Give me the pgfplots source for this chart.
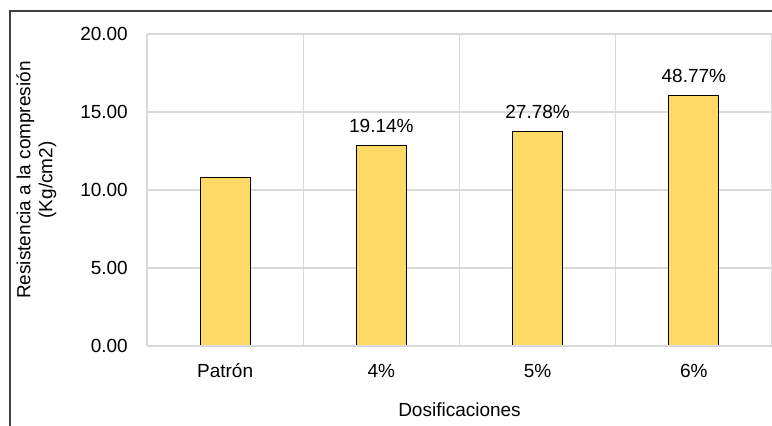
\documentclass[border=0pt]{standalone}
\usepackage{pgfplots}
\pgfplotsset{compat=1.18}
\usepackage{pgfplotstable}
\usepackage{fontspec}
\setmainfont{Liberation Sans}

\definecolor{barfill}{RGB}{255,217,102}
\definecolor{gridgray}{RGB}{217,217,217}
\definecolor{framegray}{RGB}{64,64,64}

% Compressive strength per dosage; label = increase over the reference mix
\pgfplotstableread[col sep=comma]{
x,y,lbl
0,10.78,{}
1,12.84,19.14\%
2,13.77,27.78\%
3,16.04,48.77\%
}\resistencia

\newcommand{\chartfont}{\fontsize{19bp}{22bp}\selectfont}

\begin{document}
\chartfont
\begin{tikzpicture}[x=1bp,y=1bp]
\useasboundingbox (0,0) rectangle (772,425);
% chart frame
\draw[framegray, line width=1.2bp] (10,-10) -- (10,414) -- (790,414);
\begin{axis}[
  at={(147bp,79bp)}, anchor=south west,
  scale only axis, width=625bp, height=312bp,
  xmin=-0.5, xmax=3.5, ymin=0, ymax=20,
  xtick={0,1,2,3},
  xticklabels={Patrón,4\%,5\%,6\%},
  minor xtick={-0.5,0.5,1.5,2.5,3.5},
  ytick={0,5,10,15,20},
  xminorgrids=true, ymajorgrids=true,
  grid style={gridgray, line width=1.2bp},
  minor grid style={gridgray, line width=1.2bp},
  axis line style={draw=none},
  major tick length=0pt, minor tick length=0pt,
  tick style={draw=none},
  /pgf/number format/assume math mode=true,
  yticklabel style={/pgf/number format/fixed, /pgf/number format/fixed zerofill,
    /pgf/number format/precision=2, anchor=east, inner sep=0pt, xshift=-19bp,
    font=\chartfont},
  xticklabel style={anchor=base, inner sep=0pt, yshift=-31bp,
    font=\chartfont},
  ylabel={Resistencia a la compresión\\(Kg/cm2)},
  ylabel style={at={(axis description cs:-0.177,0.532)}, anchor=center,
    rotate=0, align=center, inner sep=0pt, font=\chartfont},
  xlabel={Dosificaciones},
  xlabel style={at={(axis description cs:0.5,-0.205)}, anchor=center,
    inner sep=0pt, font=\chartfont},
  clip=false,
]
\addplot[ybar, bar width=50bp, fill=barfill, draw=black, line width=1.2bp,
  point meta=explicit symbolic,
  nodes near coords,
  nodes near coords style={anchor=base, inner sep=0pt, yshift=13bp,
    font=\chartfont, text=black}]
  table[x=x, y=y, meta=lbl] {\resistencia};
% category axis line drawn over the bar bases
\draw[gridgray, line width=1.4bp] (axis cs:-0.5,0) -- (axis cs:3.5,0);
\end{axis}
\end{tikzpicture}
\end{document}
